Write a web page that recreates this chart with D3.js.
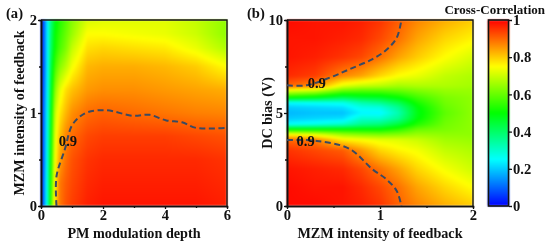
<!DOCTYPE html>
<html>
<head>
<meta charset="utf-8">
<script src="https://cdn.jsdelivr.net/npm/d3@7"></script>
<style>
  html, body { margin: 0; padding: 0; background: #fff; }
  #wrap { position: relative; width: 550px; height: 246px; overflow: hidden; }
  canvas, svg { position: absolute; left: 0; top: 0; }
  canvas { filter: blur(0.9px); }
  text { font-family: "Liberation Serif", serif; font-weight: bold; fill: #111; }
</style>
</head>
<body>
<div id="wrap">
  <canvas id="heat" width="550" height="246"></canvas>
  <svg id="chart" width="550" height="246"></svg>
</div>
<script>
// panel (a): rows run along y, columns along x
var aDepth = [0, 0.1, 0.2, 0.3, 0.45, 0.6, 0.8, 1, 1.5, 2, 3, 4, 5, 6];
var aFeedback = [0, 0.25, 0.5, 0.75, 1, 1.25, 1.5, 1.7, 1.85, 2];
var aValues = [
  [.02,.13,.28,.52,.78,.88,.92,.94,.97,.98,.98,.98,.98,.97],
  [.02,.13,.28,.50,.76,.88,.91,.93,.96,.97,.97,.97,.97,.96],
  [.02,.12,.27,.48,.74,.84,.89,.92,.95,.96,.96,.96,.96,.95],
  [.02,.12,.26,.46,.72,.81,.87,.895,.93,.94,.94,.94,.93,.92],
  [.02,.12,.25,.44,.69,.77,.82,.86,.895,.905,.895,.885,.875,.87],
  [.02,.11,.24,.42,.63,.72,.78,.81,.85,.86,.86,.85,.84,.83],
  [.02,.10,.23,.40,.56,.63,.68,.74,.82,.83,.83,.82,.80,.75],
  [.02,.10,.23,.38,.51,.57,.62,.69,.78,.79,.78,.77,.73,.67],
  [.02,.10,.23,.37,.50,.55,.60,.65,.75,.75,.74,.73,.70,.64],
  [.02,.10,.23,.36,.48,.53,.58,.63,.71,.72,.72,.72,.69,.64]
];
var aContour = [[0.5,0],[0.5,0.32],[0.77,0.61],[0.99,0.86],[1.25,0.96],[1.52,1.01],[2.1,1.03],[2.97,0.97],[3.5,0.98],[4.04,0.92],[4.55,0.9],[5,0.84],[6,0.84]];

// panel (b): one row per DC bias value
var bFeedback = [0, 0.3, 0.6, 0.8, 1, 1.2, 1.4, 1.7, 2];
var bBias = [0, 1, 2, 3, 3.55, 3.85, 4.12, 4.4, 4.7, 5, 5.3, 5.55, 5.82, 6.24, 6.45, 7, 8, 9, 10];
var bValues = [
  [.99,.99,.98,.97,.95,.905,.87,.83,.80],
  [.99,.98,.98,.96,.93,.89,.84,.79,.75],
  [.98,.97,.96,.93,.885,.84,.79,.74,.70],
  [.95,.93,.91,.85,.79,.76,.74,.69,.67],
  [.90,.88,.77,.75,.73,.72,.70,.66,.65],
  [.75,.72,.65,.63,.62,.63,.65,.64,.64],
  [.50,.50,.50,.50,.50,.54,.60,.62,.64],
  [.25,.27,.30,.36,.38,.44,.53,.61,.64],
  [.20,.21,.22,.30,.30,.36,.49,.60,.64],
  [.18,.19,.19,.24,.24,.33,.48,.59,.64],
  [.20,.21,.22,.27,.28,.36,.49,.60,.64],
  [.25,.26,.27,.33,.36,.42,.52,.61,.64],
  [.50,.47,.42,.45,.46,.50,.56,.62,.64],
  [.75,.72,.62,.60,.60,.61,.63,.65,.65],
  [.90,.86,.72,.69,.68,.66,.67,.67,.66],
  [.96,.94,.87,.84,.79,.75,.73,.69,.67],
  [.98,.97,.95,.93,.89,.84,.80,.75,.71],
  [.98,.98,.97,.96,.93,.89,.84,.79,.76],
  [.99,.98,.98,.97,.95,.91,.87,.83,.80]
];
var bContourTop = [[0,6.49],[0.21,6.49],[0.46,6.9],[0.67,7.35],[0.92,7.9],[1.07,8.4],[1.18,9.05],[1.23,10]];
var bContourBottom = [[0,3.55],[0.32,3.5],[0.67,3.08],[0.92,1.97],[1.07,1.43],[1.18,0.81],[1.23,0]];

var jetStops = [0, 0.25, 0.5, 0.75, 1];
var jetColors = ["#0000ff", "#00ffff", "#00ff00", "#ffff00", "#ff0000"];
var barTicks = [0, 0.2, 0.4, 0.6, 0.8, 1];

var color = d3.scaleLinear().domain(jetStops).range(jetColors).clamp(true);
var svg = d3.select("#chart");
var ctx = document.getElementById("heat").getContext("2d");

// bilinear lookup in the grid
function lookup(xs, ys, vals, x, y) {
  var i = Math.min(Math.max(d3.bisectRight(xs, x) - 1, 0), xs.length - 2);
  var j = Math.min(Math.max(d3.bisectRight(ys, y) - 1, 0), ys.length - 2);
  var tx = (x - xs[i]) / (xs[i + 1] - xs[i]);
  var ty = (y - ys[j]) / (ys[j + 1] - ys[j]);
  var top = vals[j][i] * (1 - tx) + vals[j][i + 1] * tx;
  var bot = vals[j + 1][i] * (1 - tx) + vals[j + 1][i + 1] * tx;
  return top * (1 - ty) + bot * ty;
}

function paint(xScale, yScale, xs, ys, vals) {
  var r = xScale.range(), q = yScale.range();
  for (var px = r[0]; px < r[1]; px++) {
    for (var py = q[1]; py < q[0]; py++) {
      ctx.fillStyle = color(lookup(xs, ys, vals, xScale.invert(px + 0.5), yScale.invert(py + 0.5)));
      ctx.fillRect(px, py, 1, 1);
    }
  }
}

function axisStyle(g) {
  g.selectAll("path.domain").attr("stroke", "#111").attr("stroke-width", 1.6);
  g.selectAll("line").attr("stroke", "#111").attr("stroke-width", 1.3);
  g.selectAll("text").style("font-size", "14.6px");
}

function panel(opts) {
  var x = d3.scaleLinear().domain(opts.xDomain).range([opts.left, opts.left + 186]);
  var y = d3.scaleLinear().domain(opts.yDomain).range([206, 20]);
  paint(x, y, opts.xs, opts.ys, opts.vals);

  // minor ticks first, then labelled ones
  svg.append("g").attr("transform", "translate(0,206)")
    .call(d3.axisBottom(x).tickValues(opts.xMinor).tickSize(2).tickFormat("")).call(axisStyle);
  svg.append("g").attr("transform", "translate(" + opts.left + ",0)")
    .call(d3.axisLeft(y).tickValues(opts.yMinor).tickSize(2).tickFormat("")).call(axisStyle);
  svg.append("g").attr("transform", "translate(0,206)")
    .call(d3.axisBottom(x).tickValues(opts.xTicks).tickSize(3).tickSizeOuter(0).tickPadding(1).tickFormat(d3.format("d"))).call(axisStyle);
  svg.append("g").attr("transform", "translate(" + opts.left + ",0)")
    .call(d3.axisLeft(y).tickValues(opts.yTicks).tickSize(3).tickSizeOuter(0).tickPadding(1).tickFormat(d3.format("d"))).call(axisStyle);

  // top and right of the frame
  svg.append("path")
    .attr("d", "M" + x.range()[0] + ",20H" + x.range()[1] + "V206")
    .attr("fill", "none").attr("stroke", "#111").attr("stroke-width", 1.4);

  var line = d3.line().x(function(d) { return x(d[0]); }).y(function(d) { return y(d[1]); })
    .curve(d3.curveCatmullRom);
  opts.contours.forEach(function(c) {
    svg.append("path").attr("d", line(c)).attr("fill", "none")
      .attr("stroke", "#3a4a62").attr("stroke-width", 2).attr("stroke-dasharray", "6,3.5");
  });
  opts.labels.forEach(function(l) {
    svg.append("text").attr("x", x(l[0])).attr("y", y(l[1])).attr("dy", "0.35em")
      .attr("text-anchor", "middle").style("font-size", "14.6px").text("0.9");
  });

  svg.append("text").attr("x", opts.left + 93).attr("y", 238).attr("text-anchor", "middle")
    .style("font-size", "14.2px").text(opts.xTitle);
  svg.append("text").attr("transform", "translate(" + opts.yTitleX + ",113) rotate(-90)")
    .attr("text-anchor", "middle").style("font-size", "14.2px").text(opts.yTitle);
  svg.append("text").attr("x", opts.tagX).attr("y", 18).style("font-size", "14.6px").text(opts.tag);
}

panel({
  left: 41, xDomain: [0, 6], yDomain: [0, 2],
  xs: aDepth, ys: aFeedback, vals: aValues,
  xTicks: [0, 2, 4, 6], xMinor: [1, 3, 5], yTicks: [0, 1, 2], yMinor: [0.5, 1.5],
  contours: [aContour], labels: [[0.87, 0.7]],
  xTitle: "PM modulation depth", yTitle: "MZM intensity of feedback",
  yTitleX: 24, tag: "(a)", tagX: 6
});

panel({
  left: 287, xDomain: [0, 2], yDomain: [0, 10],
  xs: bFeedback, ys: bBias, vals: bValues,
  xTicks: [0, 1, 2], xMinor: [0.5, 1.5], yTicks: [0, 5, 10], yMinor: [2.5, 7.5],
  contours: [bContourTop, bContourBottom], labels: [[0.32, 6.6], [0.2, 3.5]],
  xTitle: "MZM intensity of feedback", yTitle: "DC bias (V)",
  yTitleX: 272, tag: "(b)", tagX: 247
});

// colour bar
var barY = d3.scaleLinear().domain([0, 1]).range([206, 20]);
for (var py = 20; py < 206; py++) {
  ctx.fillStyle = color(barY.invert(py + 0.5));
  ctx.fillRect(488, py, 21, 1);
}
svg.append("rect").attr("x", 488.5).attr("y", 20).attr("width", 20).attr("height", 186)
  .attr("fill", "none").attr("stroke", "#111").attr("stroke-width", 1.6);
svg.append("g").attr("transform", "translate(509,0)")
  .call(d3.axisRight(barY).tickValues(barTicks).tickSize(3).tickSizeOuter(0).tickPadding(1)
    .tickFormat(function(d) { return d; }))
  .call(axisStyle)
  .call(function(g) { g.select("path.domain").remove(); });
svg.append("text").attr("x", 545).attr("y", 14).attr("text-anchor", "end")
  .style("font-size", "13px").text("Cross-Correlation");
</script>
</body>
</html>
